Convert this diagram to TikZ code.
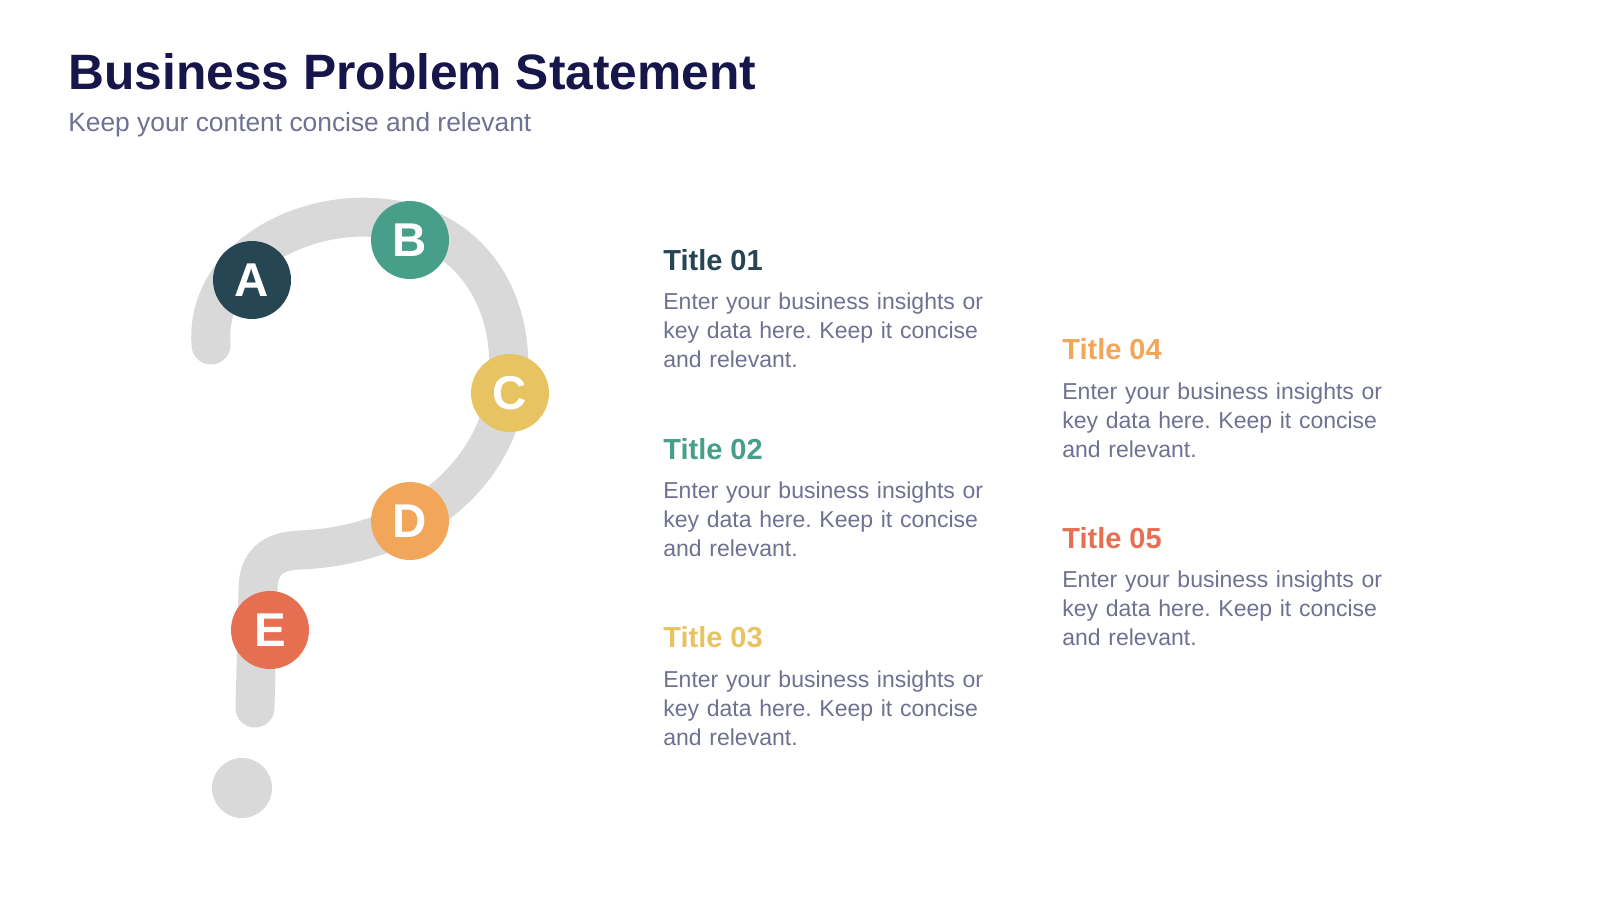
\documentclass[tikz,border=0pt]{standalone}
\usepackage{fontspec}
\setmainfont{Liberation Sans}
\frenchspacing
\definecolor{navy}{HTML}{16164A}
\definecolor{greytext}{HTML}{6E7190}
\definecolor{track}{HTML}{D9D9D9}
\definecolor{colA}{HTML}{264653}
\definecolor{colB}{HTML}{479F8A}
\definecolor{colC}{HTML}{E8C361}
\definecolor{colD}{HTML}{F2A65A}
\definecolor{colE}{HTML}{E76F51}
\tikzset{
  step/.style={circle,fill=#1,minimum size=1.56cm,inner sep=0pt,text=white,font=\fontsize{27}{27}\selectfont\bfseries},
  ttl/.style={anchor=west,inner sep=0pt,text=#1,font=\fontsize{16.5}{18}\selectfont\bfseries},
  body/.style={anchor=north west,inner sep=0pt,align=left,text width=6.9cm,text=greytext,font=\fontsize{13.1}{16.6}\selectfont}
}
\begin{document}
\begin{tikzpicture}[x=0.02cm,y=-0.02cm]
\useasboundingbox (0,0) rectangle (1600,900);

\node[anchor=west,inner sep=0pt,text=navy,font=\fontsize{28.3}{30}\selectfont\bfseries] (head) at (68,72) {Business Problem Statement};
\node[anchor=west,inner sep=0pt,text=greytext,font=\fontsize{15}{16}\selectfont] (sub) at (68,125) {Keep your content concise and relevant};

% question mark
\draw[track,line width=0.78cm,line cap=round]
  (211,345) .. controls (205,260) and (300,210) .. (380,218)
  .. controls (470,225) and (515,300) .. (508,380)
  .. controls (500,470) and (420,545) .. (300,550)
  .. controls (270,551) and (258,565) .. (258,590)
  -- (255,708);
\fill[track] (242,788) circle (30);

\node[step=colA] (a) at (252,280) {A};
\node[step=colB] (b) at (410,240) {B};
\node[step=colC] (c) at (510,393) {C};
\node[step=colD] (d) at (410,521) {D};
\node[step=colE] (e) at (270,630) {E};

\node[ttl=colA] (t1) at (663,260) {Title 01};
\node[body] (b1) at (663,292) {Enter your business insights or key data here. Keep it concise and relevant.};
\node[ttl=colB] (t2) at (663,449) {Title 02};
\node[body] (b2) at (663,481) {Enter your business insights or key data here. Keep it concise and relevant.};
\node[ttl=colC] (t3) at (663,637) {Title 03};
\node[body] (b3) at (663,670) {Enter your business insights or key data here. Keep it concise and relevant.};
\node[ttl=colD] (t4) at (1062,349) {Title 04};
\node[body] (b4) at (1062,382) {Enter your business insights or key data here. Keep it concise and relevant.};
\node[ttl=colE] (t5) at (1062,538) {Title 05};
\node[body] (b5) at (1062,570) {Enter your business insights or key data here. Keep it concise and relevant.};
\end{tikzpicture}
\end{document}
